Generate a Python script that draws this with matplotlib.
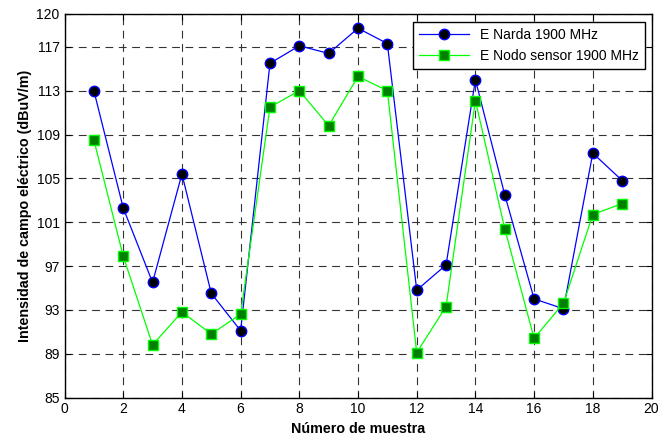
import matplotlib
matplotlib.use("Agg")
import matplotlib.pyplot as plt

plt.rcParams['font.family'] = ['Liberation Sans', 'DejaVu Sans']

muestra = list(range(1, 20))
e_narda = [113.0, 102.3, 95.5, 105.4, 94.5, 91.1, 115.5, 117.1, 116.4, 118.7,
           117.3, 94.8, 97.1, 114.0, 103.5, 94.0, 93.1, 107.3, 104.8]
e_nodo = [108.5, 97.9, 89.8, 92.8, 90.8, 92.6, 111.5, 113.0, 109.8, 114.3,
          113.0, 89.1, 93.3, 112.1, 100.4, 90.4, 93.6, 101.7, 102.7]

xticks = [0, 2, 4, 6, 8, 10, 12, 14, 16, 18, 20]
yticks = [85, 89, 93, 97, 101, 105, 109, 113, 117, 120]

fig = plt.figure(figsize=(6.7, 4.36), dpi=100)
ax = fig.add_axes([0.0963, 0.0883, 0.8761, 0.8796])

ax.plot(muestra, e_narda, color='#0000ff', lw=0.9, marker='o', ms=7.5,
        mfc='black', mec='#0000ff', mew=1.0, label='E Narda 1900 MHz', zorder=3)
ax.plot(muestra, e_nodo, color='#00ff00', lw=0.9, marker='s', ms=6.5,
        mfc='#007f00', mec='#00ff00', mew=1.0, label='E Nodo sensor 1900 MHz', zorder=3)

ax.set_xlim(0, 20)
ax.set_ylim(85, 120)
ax.set_xticks(xticks)
ax.set_yticks(yticks)
ax.tick_params(direction='in', top=True, right=True, labelsize=10, length=4, width=0.8)
ax.grid(True, color='#333333', linestyle=(0, (7, 5)), linewidth=0.8)
for s in ax.spines.values():
    s.set_linewidth(1.0)

ax.set_xlabel('Número de muestra', fontsize=10.3, fontweight='bold', labelpad=4)
ax.set_ylabel('Intensidad de campo eléctrico (dBuV/m)', fontsize=10.3, fontweight='bold', labelpad=3)

leg = ax.legend(loc='upper right', fontsize=10, fancybox=False, framealpha=1,
                edgecolor='black', borderpad=0.45, labelspacing=0.45,
                handlelength=3.6, borderaxespad=0,
                bbox_to_anchor=(0.989, 0.979))
leg.get_frame().set_linewidth(1.0)

fig.savefig('out.png', dpi=100)
